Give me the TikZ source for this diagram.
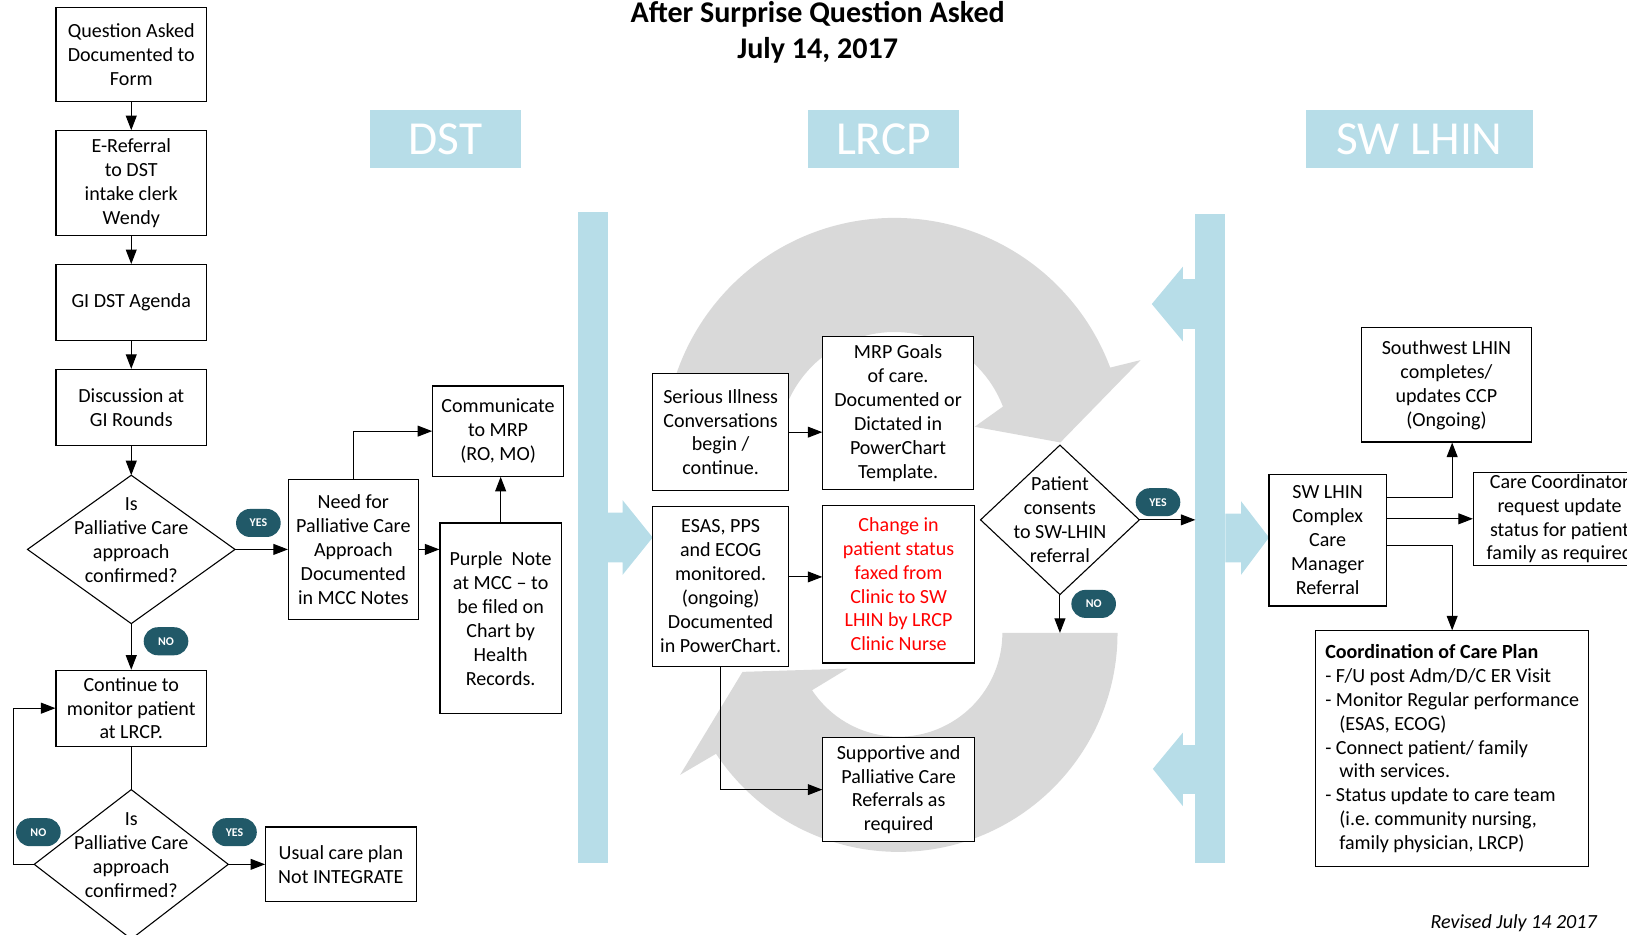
\documentclass[tikz,border=0pt]{standalone}
\usepackage{fontspec}
\setmainfont{Carlito}
\frenchspacing
\usetikzlibrary{shapes.geometric,arrows.meta,calc}
\definecolor{barblue}{HTML}{B7DDE8}
\definecolor{ringgrey}{HTML}{D9D9D9}
\definecolor{pillteal}{HTML}{215968}
\definecolor{alertred}{HTML}{FF0000}
\tikzset{
  wh/.style 2 args={minimum width=#1*0.02cm, minimum height=#2*0.02cm},
  box/.style={draw, fill=white, line width=0.6pt, inner sep=0pt, align=center,
    font=\fontsize{11}{13.1}\selectfont},
  dia/.style={box, diamond, outer sep=0pt},
  dtext/.style={align=center, font=\fontsize{11}{13.1}\selectfont},
  pill/.style={fill=pillteal, text=white, rounded corners=0.27cm, wh={43}{27},
    inner sep=0pt, font=\bfseries\fontsize{6.5}{7}\selectfont},
  hdr/.style={fill=barblue, text=white, inner sep=0pt, font=\fontsize{26}{30}\selectfont},
}
\begin{document}
\begin{tikzpicture}[x=0.02cm, y=-0.02cm]
\useasboundingbox (0,0) rectangle (1568,901);

% grey cycle behind the LRCP column
\begin{scope}[shift={(862,432)}]
\fill[ringgrey] (180:222) arc[start angle=180, end angle=339.5, radius=222]
  -- (340.3:252) -- (358:160) -- (345:80) -- (339:112)
  arc[start angle=339, end angle=180, radius=112] -- cycle;
\end{scope}
\begin{scope}[shift={(866,610)}]
\fill[ringgrey] (0:211) arc[start angle=0, end angle=146.5, radius=211]
  -- (147:251) -- (166:155) -- (145:60) -- (146.5:100)
  arc[start angle=146.5, end angle=0, radius=100] -- cycle;
\end{scope}

% blue dividers
\fill[barblue] (557,204) rectangle (586,832);
\fill[barblue] (586,494) -- (600,494) -- (600,482) -- (629,518) -- (600,554) -- (600,542) -- (586,542) -- cycle;
\fill[barblue] (1152,206) rectangle (1181,832);
\fill[barblue] (1152,269) -- (1140,269) -- (1140,257) -- (1110,293) -- (1140,329) -- (1140,317) -- (1152,317) -- cycle;
\fill[barblue] (1152,718) -- (1140,718) -- (1140,706) -- (1111,741) -- (1140,777) -- (1140,765) -- (1152,765) -- cycle;
\fill[barblue] (1181,495) -- (1196,495) -- (1196,483) -- (1223,518) -- (1196,554) -- (1196,542) -- (1181,542) -- cycle;

\node[align=center, font=\bfseries\fontsize{16.5}{20}\selectfont] (title) at (788,31) {After Surprise Question Asked\\July 14, 2017};
\node[hdr, wh={145}{56}] (dst) at (429.5,134) {DST};
\node[hdr, wh={145}{56}] (lrcp) at (851.5,134) {LRCP};
\node[hdr, wh={218}{56}] (swl) at (1368,134) {SW LHIN};

% DST column
\node[box, wh={145}{91}] (asked) at (126.5,52.5) {Question Asked\\Documented to\\Form};
\node[box, wh={145}{101}] (eref) at (126.5,176.5) {E-Referral\\to DST\\intake clerk\\Wendy};
\node[box, wh={145}{73}] (agenda) at (126.5,291.5) {GI DST Agenda};
\node[box, wh={145}{73}] (rounds) at (126.5,392.5) {Discussion at\\GI Rounds};
\node[dia, wh={200}{143},
  label={[dtext, yshift=0.18cm]center:Is\\Palliative Care\\approach\\confirmed?}] (conf1) at (126.5,529.5) {};
\node[box, wh={145}{73}] (monitor) at (126.5,682.5) {Continue to\\monitor patient\\at LRCP.};
\node[dia, wh={187}{144},
  label={[dtext, yshift=0.18cm]center:Is\\Palliative Care\\approach\\confirmed?}] (conf2) at (126.5,833) {};
\node[box, wh={145}{72}] (usual) at (328.5,833) {Usual care plan\\Not INTEGRATE};
\node[box, wh={125}{135}] (need) at (340.5,529.5) {Need for\\Palliative Care\\Approach\\Documented\\in MCC Notes};
\node[box, wh={126}{87}] (mrp) at (480,415.5) {Communicate\\to MRP\\(RO, MO)};
\node[box, wh={117}{184}] (purple) at (482.5,596) {Purple\ \ Note\\at MCC -- to\\be filed on\\Chart by\\Health\\Records.};

% LRCP column
\node[box, wh={131}{113}] (talk) at (694.5,416.5) {Serious Illness\\Conversations\\begin /\\continue.};
\node[box, wh={145}{148}] (goals) at (865.5,398) {MRP Goals\\of care.\\Documented or\\Dictated in\\PowerChart\\Template.};
\node[box, wh={131}{154}] (esas) at (694.5,565) {ESAS, PPS\\and ECOG\\monitored.\\(ongoing)\\Documented\\in PowerChart.};
\node[box, wh={146}{152}, text=alertred] (fax) at (866,563) {Change in\\patient status\\faxed from\\Clinic to SW\\LHIN by LRCP\\Clinic Nurse};
\node[box, wh={146}{100}] (supp) at (866,761) {Supportive and\\Palliative Care\\Referrals as\\required};
\node[dia, wh={153}{144},
  label={[dtext]center:Patient\\consents\\to SW-LHIN\\referral}] (consent) at (1021.5,501) {};

% SW LHIN column
\node[box, wh={113}{127}] (ccm) at (1279.5,520.5) {SW LHIN\\Complex\\Care\\Manager\\Referral};
\node[box, wh={164}{110}] (ccp) at (1394,371) {Southwest LHIN\\completes/\\updates CCP\\(Ongoing)};
\node[box, wh={166}{90}] (coord) at (1503,500) {Care Coordinator\\request update\\status for patient\\family as required};
\node[box, wh={263}{227}, align=left] (plan) at (1399.5,721.5) {\textbf{Coordination of Care Plan}\\- F/U post Adm/D/C ER Visit\\- Monitor Regular performance\\\hspace*{7.7pt}(ESAS, ECOG)\\- Connect patient/ family\\\hspace*{7.7pt}with services.\\- Status update to care team\\\hspace*{7.7pt}(i.e. community nursing,\\\hspace*{7.7pt}family physician, LRCP)};
\node[anchor=east, font=\itshape\fontsize{11}{13}\selectfont] (rev) at (1545,890) {Revised July 14 2017};

\node[pill] (yes1) at (249,504) {YES};
\node[pill] (no1) at (160,618) {NO};
\node[pill] (no2) at (37,802) {NO};
\node[pill] (yes2) at (226,802) {YES};
\node[pill] (yes3) at (1116,484) {YES};
\node[pill] (no3) at (1054,582) {NO};

\coordinate (barin) at (1152,501);
\coordinate (noend) at (1021.5,610);
\begin{scope}[line width=0.6pt, -{Triangle[length=2.8mm, width=2.1mm]}]
\draw (asked) -- (eref);
\draw (eref) -- (agenda);
\draw (agenda) -- (rounds);
\draw (rounds) -- (conf1);
\draw (conf1) -- (monitor);
\draw (conf1) -- (need);
\draw (need.north) |- (mrp.west);
\draw (need.east) -- (need.east -| purple.west);
\draw (purple.north) -- (purple.north |- mrp.south);
\draw (conf2.west) -- ++(-20,0) |- (monitor.west);
\draw (conf2) -- (usual);
\draw (talk.east) -- (talk.east -| goals.west);
\draw ($(esas.east)+(0,-9)$) -- ($(esas.east -| fax.west)+(0,-9)$);
\draw (esas.south) |- (supp.west);
\draw (consent.east) -- (barin);
\draw (consent.south) -- (noend);
\draw ($(ccm.east)+(0,-41)$) -| (plan.north |- ccp.south);
\draw (ccm.east |- coord.west) -- (coord.west);
\draw ($(ccm.east)+(0,5)$) -| (plan.north);
\end{scope}
\draw[line width=0.6pt] (monitor) -- (conf2);
\end{tikzpicture}
\end{document}
